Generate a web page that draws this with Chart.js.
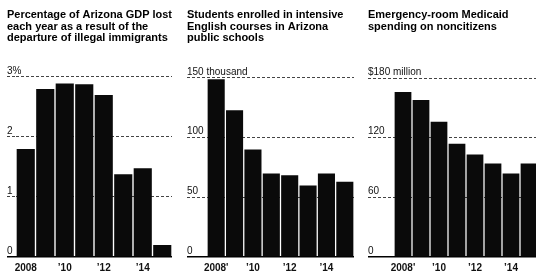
<!DOCTYPE html>
<html>
<head>
<meta charset="utf-8">
<script src="https://cdn.jsdelivr.net/npm/chart.js@4.4.0/dist/chart.umd.min.js"></script>
<style>
  html, body { margin: 0; padding: 0; background: #fff; overflow: hidden; }
  body { width: 536px; height: 274px; position: relative; }
  canvas { position: absolute; top: 0; }
</style>
</head>
<body>
<canvas id="gdp" width="178" height="274" style="left:0px"></canvas>
<canvas id="english" width="178" height="274" style="left:180px"></canvas>
<canvas id="medicaid" width="180" height="274" style="left:360px"></canvas>
<script>
const years = ['2008', '2009', '2010', '2011', '2012', '2013', '2014', '2015'];

const gdpLost = [1.8, 2.8, 2.89, 2.88, 2.7, 1.38, 1.48, 0.2];
const studentsEnrolled = [149, 123, 90, 70, 68.5, 60, 70, 63];
const medicaidSpending = [166, 158, 136, 114, 103, 94, 84, 94];

const gdpYearLabels = ['2008', '', '\u201910', '', '\u201912', '', '\u201914', ''];
const otherYearLabels = ['2008\'', '', '\u201910', '', '\u201912', '', '\u201914', ''];

const gdpTicks = { 0: '0', 1: '1', 2: '2', 3: '3%' };
const studentTicks = { 0: '0', 50: '50', 100: '100', 150: '150 thousand' };
const medicaidTicks = { 0: '0', 60: '60', 120: '120', 180: '$180 million' };

Chart.defaults.font.family = '"Liberation Sans", Arial, sans-serif';
Chart.defaults.color = '#111';

function makePanel(id, title, values, yearLabels, tickText, max, step, axisWidth, pad, titleBottom) {
  const ctx = document.getElementById(id).getContext('2d');
  return new Chart(ctx, {
    type: 'bar',
    data: {
      labels: years,
      datasets: [{
        data: values,
        backgroundColor: '#0a0a0a',
        borderWidth: 0,
        barPercentage: 0.93,
        categoryPercentage: 1.0
      }]
    },
    options: {
      responsive: false,
      animation: false,
      layout: {
        padding: { left: pad.left, right: pad.right, top: 0, bottom: 2 }
      },
      plugins: {
        legend: { display: false },
        tooltip: { enabled: false },
        title: {
          display: true,
          text: title,
          align: 'start',
          color: '#000',
          font: { size: 11, weight: 'bold', lineHeight: 1.06 },
          padding: { top: 9, bottom: titleBottom }
        }
      },
      scales: {
        x: {
          afterFit: function(scale) {
            scale.height = 15;
          },
          grid: { display: false, drawTicks: false, tickLength: 0 },
          border: { display: false },
          ticks: {
            autoSkip: false,
            maxRotation: 0,
            padding: 5,
            font: { size: 10, weight: 'bold' },
            callback: function(value, index) {
              return yearLabels[index];
            }
          }
        },
        y: {
          min: 0,
          max: max,
          afterFit: function(scale) {
            scale.width = axisWidth;
          },
          border: {
            display: false,
            dash: (c) => c.tick && c.tick.value === 0 ? [] : [3, 2]
          },
          grid: {
            color: (c) => c.tick && c.tick.value === 0 ? '#000' : '#444',
            lineWidth: (c) => c.tick && c.tick.value === 0 ? 1.5 : 1,
            tickLength: axisWidth,
            tickBorderDash: (c) => c.tick && c.tick.value === 0 ? [] : [3, 2]
          },
          ticks: {
            stepSize: step,
            // drawn inside so the unit label is not clipped to the axis box
            mirror: true,
            crossAlign: 'near',
            padding: -axisWidth,
            labelOffset: -6,
            font: { size: 10 },
            callback: function(value) {
              return tickText[value];
            }
          }
        }
      }
    }
  });
}

makePanel('gdp',
  ['Percentage of Arizona GDP lost', 'each year as a result of the', 'departure of illegal immigrants'],
  gdpLost, gdpYearLabels, gdpTicks, 3, 1, 9, { left: 7, right: 6 }, 33);

makePanel('english',
  ['Students enrolled in intensive', 'English courses in Arizona', 'public schools'],
  studentsEnrolled, otherYearLabels, studentTicks, 150, 50, 20, { left: 7, right: 4 }, 34);

makePanel('medicaid',
  ['Emergency-room Medicaid', 'spending on noncitizens'],
  medicaidSpending, otherYearLabels, medicaidTicks, 180, 60, 26, { left: 8, right: 2 }, 45.7);
</script>
</body>
</html>
